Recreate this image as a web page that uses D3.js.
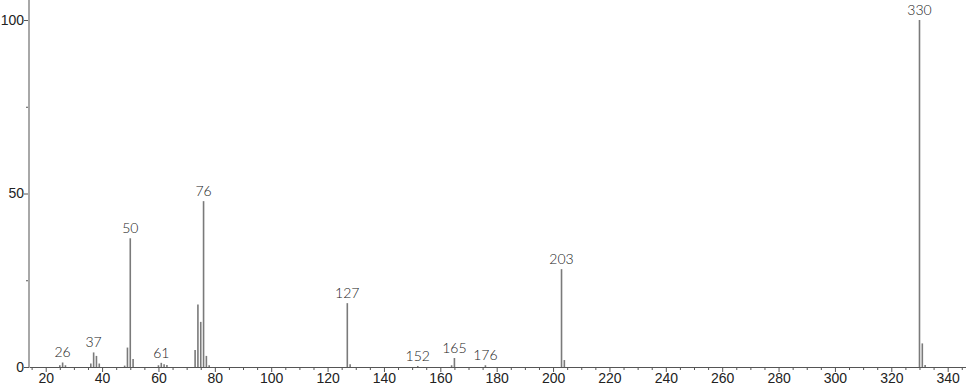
<!DOCTYPE html>
<html lang="en">
<head>
<meta charset="UTF-8">
<script src="https://d3js.org/d3.v7.min.js"></script>
<style>
  body { margin: 0; background: #fff; }
  svg { display: block; font-family: "Lato", "Open Sans", sans-serif; font-weight: 300; opacity: 0.995; }
</style>
</head>
<body>
<div id="container"></div>
<script>
// m/z values and relative intensities (%)
const mz = [25, 26, 27, 36, 37, 38, 39, 48, 49, 50, 51, 60, 61, 62, 63,
            73, 74, 75, 76, 77, 78, 127, 128, 152, 164, 165, 176, 203, 204, 330, 331, 332];
const intensity = [0.5, 1.3, 0.5, 1.0, 4.2, 3.2, 1.0, 0.4, 5.6, 37.1, 2.3, 0.5, 1.2, 0.8, 0.6,
                   4.9, 18.0, 13.0, 47.8, 3.2, 0.5, 18.4, 0.8, 0.3, 0.5, 2.6, 0.5, 28.2, 2.0, 100, 6.8, 0.6];
const labelled = [26, 37, 50, 61, 76, 127, 152, 165, 176, 203, 330];
const xTicks = [20, 40, 60, 80, 100, 120, 140, 160, 180, 200, 220, 240, 260, 280, 300, 320, 340];
const yTicks = [0, 50, 100];

const w = 966, h = 389;
const peaks = mz.map((m, i) => ({ mz: m, val: intensity[i] }));

const svg = d3.select("#container").append("svg")
    .attr("width", w)
    .attr("height", h);

const x = d3.scaleLinear().domain([14.07, 346.5]).range([29, 966]);
const y = d3.scaleLinear().domain([0, 100]).range([367, 20]);

// peaks
svg.append("g")
    .selectAll("line")
    .data(peaks)
    .enter()
    .append("line")
    .attr("x1", d => x(d.mz))
    .attr("x2", d => x(d.mz))
    .attr("y1", y(0))
    .attr("y2", d => y(d.val))
    .attr("stroke", "#7a7a7a")
    .attr("stroke-width", 1.6);

// peak labels
svg.append("g")
    .selectAll("text")
    .data(peaks.filter(d => labelled.includes(d.mz)))
    .enter()
    .append("text")
    .attr("x", d => x(d.mz))
    .attr("y", d => y(d.val) - 5)
    .attr("text-anchor", "middle")
    .style("font-size", "14px")
    .style("fill", "#222")
    .text(d => d.mz);

// x axis
const xAxis = d3.axisBottom(x)
    .tickValues(xTicks)
    .tickSize(5)
    .tickPadding(1)
    .tickSizeOuter(0);
const xMinor = d3.axisBottom(x)
    .tickValues(d3.range(15, 346, 5).filter(v => v % 20 !== 0))
    .tickSize(3)
    .tickFormat("")
    .tickSizeOuter(0);

svg.append("g")
    .attr("transform", "translate(0," + y(0) + ")")
    .call(xMinor)
    .call(g => g.select(".domain").remove())
    .call(g => g.selectAll("line").attr("stroke", "#555"));

svg.append("g")
    .attr("id", "x-axis")
    .attr("transform", "translate(0," + y(0) + ")")
    .call(xAxis)
    .call(g => g.select(".domain").attr("stroke", "#555").attr("stroke-width", 1))
    .call(g => g.selectAll("line").attr("stroke", "#555"))
    .call(g => g.selectAll("text").style("font-size", "14px").style("fill", "#222")
        .attr("font-family", null));

// y axis
const yAxis = d3.axisLeft(y)
    .tickValues(yTicks)
    .tickSize(5)
    .tickSizeOuter(0);
const yMinor = d3.axisLeft(y)
    .tickValues([25, 75])
    .tickSize(3)
    .tickFormat("")
    .tickSizeOuter(0);

svg.append("g")
    .attr("transform", "translate(29,0)")
    .call(yMinor)
    .call(g => g.select(".domain").remove())
    .call(g => g.selectAll("line").attr("stroke", "#555"));

svg.append("g")
    .attr("id", "y-axis")
    .attr("transform", "translate(29,0)")
    .call(yAxis)
    .call(g => g.select(".domain").remove())
    .call(g => g.selectAll("line").attr("stroke", "#555"))
    .call(g => g.selectAll("text").style("font-size", "14px").style("fill", "#222")
        .attr("font-family", null).attr("x", -5));

// y axis line, full height
svg.append("line")
    .attr("x1", 29).attr("x2", 29)
    .attr("y1", 0).attr("y2", y(0))
    .attr("stroke", "#a8a8a8")
    .attr("stroke-width", 2);
</script>
</body>
</html>
